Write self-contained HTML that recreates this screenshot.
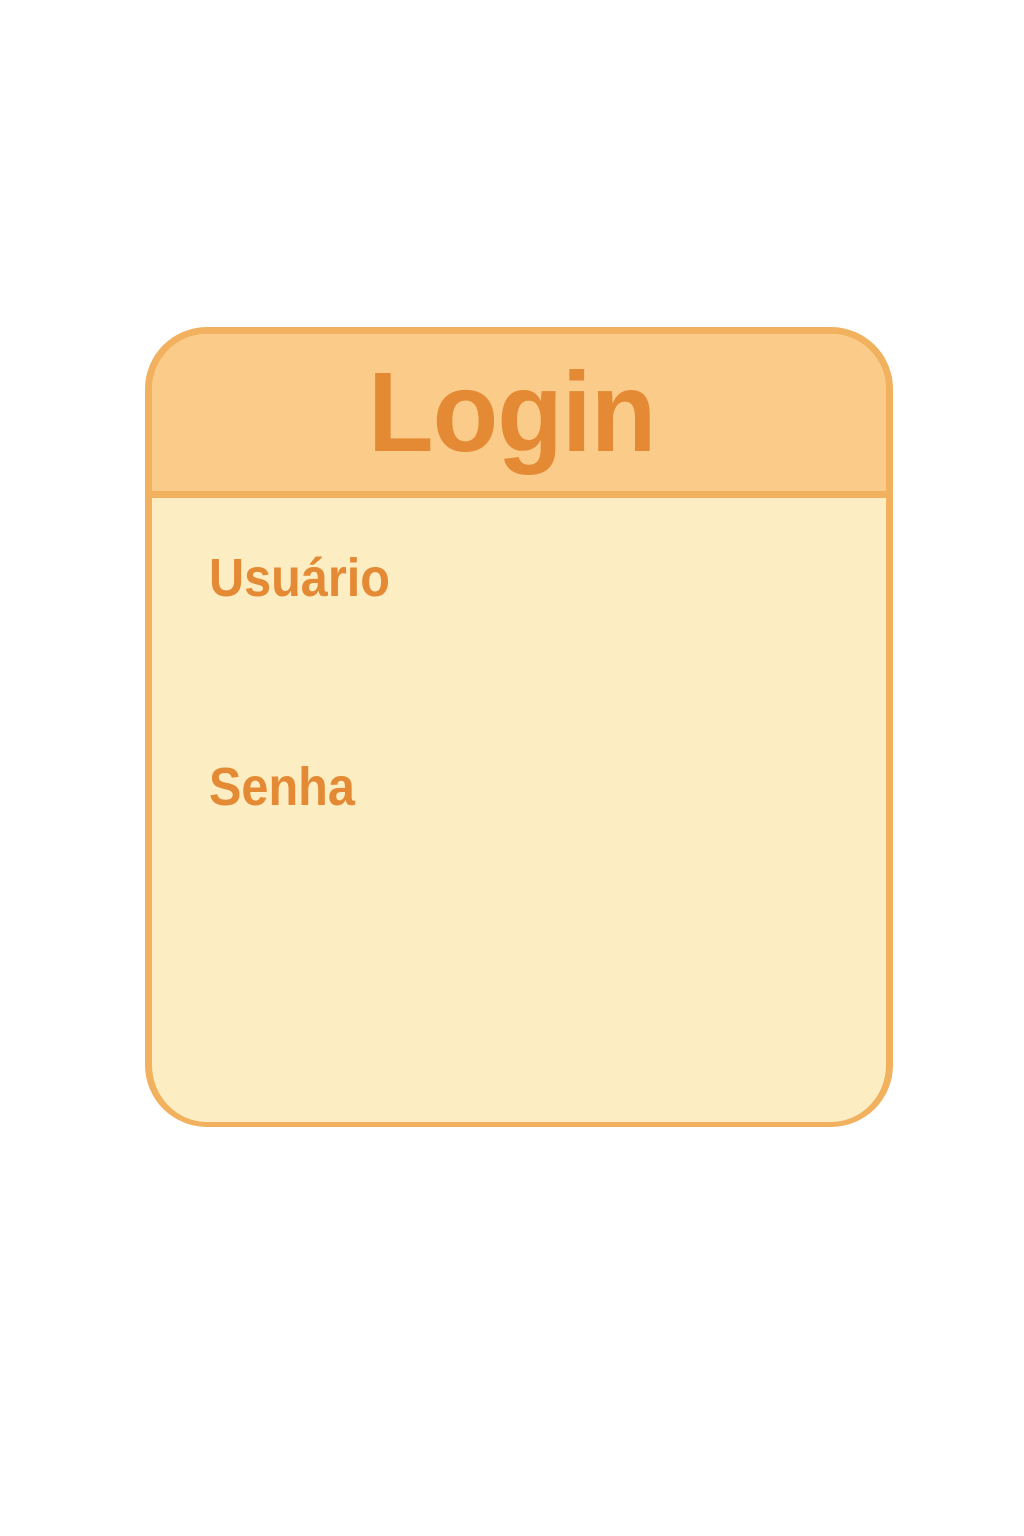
<!DOCTYPE html>
<html><head><style>
body{margin:0;width:1024px;height:1536px;background:#fff;position:relative;overflow:hidden;font-family:"Liberation Sans",sans-serif;}
.box{position:absolute;left:145px;top:327px;width:748px;height:800px;box-sizing:border-box;border:7px solid #f2b15e;border-bottom-width:5px;border-radius:62px;background:#fcedc3;overflow:hidden;}
.hdr{position:absolute;left:0;top:0;right:0;height:157px;background:#fbcb8a;border-bottom:7px solid #f2b15e;}
.t{position:absolute;color:#e48a35;font-weight:bold;white-space:nowrap;transform-origin:left top;}
</style></head><body>
<div class="box"><div class="hdr"></div></div>
<div class="t" style="left:368px;top:344px;font-size:113px;line-height:136px;transform:scaleX(0.95);letter-spacing:-1px">Login</div>
<div class="t" style="left:209px;top:547px;font-size:54px;line-height:62px;transform:scaleX(0.9)">Usuário</div>
<div class="t" style="left:209px;top:756px;font-size:54px;line-height:62px;transform:scaleX(0.9)">Senha</div>
</body></html>
